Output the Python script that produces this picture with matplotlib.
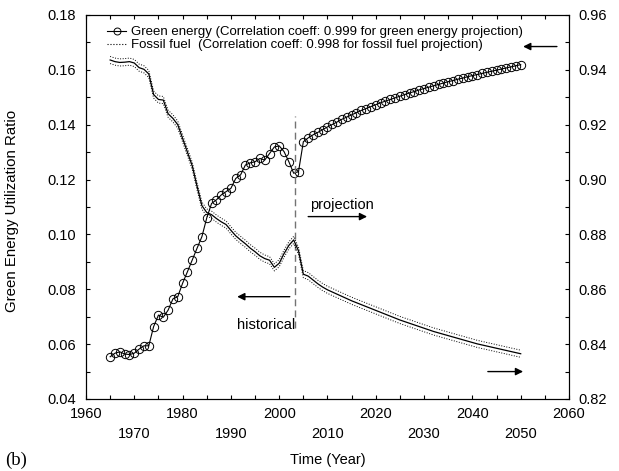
import numpy as np
import matplotlib.pyplot as plt
from matplotlib.lines import Line2D
from matplotlib.ticker import MultipleLocator, FormatStrFormatter

plt.rcParams['font.family'] = ['Liberation Sans', 'DejaVu Sans']

# historical data (1965-2004) and projection (2005-2050)
hist_years = list(range(1965, 2005))
proj_years = list(range(2005, 2051))

green_hist = [0.0554, 0.0567, 0.0572, 0.0564, 0.0562, 0.0567, 0.0582, 0.0594, 0.0594, 0.0664,
              0.0706, 0.0698, 0.0724, 0.0765, 0.0773, 0.0822, 0.0864, 0.0907, 0.0950, 0.0992,
              0.1060, 0.1113, 0.1126, 0.1144, 0.1156, 0.1168, 0.1204, 0.1217, 0.1253, 0.1261,
              0.1265, 0.1277, 0.1271, 0.1295, 0.1319, 0.1323, 0.1302, 0.1265, 0.1223, 0.1229]
green_proj = [0.1338, 0.1352, 0.1363, 0.1372, 0.1382, 0.1392, 0.1401, 0.1410, 0.1420, 0.1428,
              0.1436, 0.1444, 0.1452, 0.1459, 0.1466, 0.1473, 0.1480, 0.1486, 0.1492, 0.1498,
              0.1504, 0.1510, 0.1516, 0.1521, 0.1527, 0.1532, 0.1537, 0.1542, 0.1547, 0.1552,
              0.1557, 0.1561, 0.1566, 0.1570, 0.1575, 0.1579, 0.1583, 0.1587, 0.1591, 0.1595,
              0.1599, 0.1603, 0.1607, 0.1611, 0.1615, 0.1619]

fossil_hist = [0.9436, 0.9430, 0.9427, 0.9428, 0.9430, 0.9425, 0.9408, 0.9402, 0.9385, 0.9310,
               0.9292, 0.9290, 0.9240, 0.9223, 0.9200, 0.9150, 0.9100, 0.9050, 0.8975, 0.8905,
               0.8880, 0.8872, 0.8858, 0.8846, 0.8836, 0.8815, 0.8795, 0.8780, 0.8766, 0.8750,
               0.8737, 0.8722, 0.8712, 0.8706, 0.8680, 0.8695, 0.8730, 0.8760, 0.8780, 0.8740]
fossil_proj = [0.8655, 0.8648, 0.8634, 0.8620, 0.8608, 0.8598, 0.8590, 0.8582, 0.8574, 0.8566,
               0.8558, 0.8551, 0.8544, 0.8537, 0.8530, 0.8523, 0.8516, 0.8509, 0.8502, 0.8495,
               0.8488, 0.8482, 0.8476, 0.8470, 0.8464, 0.8458, 0.8452, 0.8446, 0.8441, 0.8436,
               0.8431, 0.8426, 0.8421, 0.8416, 0.8411, 0.8406, 0.8401, 0.8397, 0.8393, 0.8389,
               0.8385, 0.8381, 0.8377, 0.8373, 0.8369, 0.8365]
fossil_band = 0.0013   # half width of the dotted band
split_year = 2003.3

years = hist_years + proj_years
green = green_hist + green_proj
fossil = np.array(fossil_hist + fossil_proj)

fig = plt.figure(figsize=(6.19, 4.71), dpi=100)
ax = fig.add_axes([86 / 619, 1 - 399 / 471, 483 / 619, 384 / 471])
ax2 = ax.twinx()

ax.plot(years, green, 'k-', lw=0.8, marker='o', mfc='none', mec='k', ms=6, mew=0.7)
ax2.plot(years, fossil, 'k-', lw=0.9)
ax2.plot(years, fossil + fossil_band, 'k:', lw=0.7)
ax2.plot(years, fossil - fossil_band, 'k:', lw=0.7)

ax.plot([split_year, split_year], [0.066, 0.143], color='0.45', ls=(0, (5, 3)), lw=1)

ax.set_xlim(1960, 2060)
ax.set_ylim(0.04, 0.18)
ax2.set_ylim(0.82, 0.96)

xt = list(range(1960, 2061, 10))
ax.set_xticks(xt)
ax.set_xticklabels([str(y) if (y - 1960) % 20 == 0 else '\n' + str(y) for y in xt])
for lab in ax.get_xticklabels():
    lab.set_linespacing(1.5)
ax.yaxis.set_major_locator(MultipleLocator(0.02))
ax.yaxis.set_minor_locator(MultipleLocator(0.01))
ax.yaxis.set_major_formatter(FormatStrFormatter('%.2f'))
ax2.yaxis.set_major_locator(MultipleLocator(0.02))
ax2.yaxis.set_minor_locator(MultipleLocator(0.01))
ax2.yaxis.set_major_formatter(FormatStrFormatter('%.2f'))
ax.xaxis.set_minor_locator(MultipleLocator(5))

ax.tick_params(which='both', direction='in', top=True, labelsize=10.5, length=3, width=0.8)
ax.tick_params(axis='y', pad=7)
ax.tick_params(axis='x', pad=6)
ax2.tick_params(which='both', direction='in', labelsize=10.5, length=3, width=0.8, pad=7)

ax.set_xlabel('Time (Year)', fontsize=10.5, labelpad=9)
ax.set_ylabel('Green Energy Utilization Ratio', fontsize=10.8)
ax.yaxis.set_label_coords(-67 / 483, 0.49)
fig.text(0.008, 0.012, '(b)', fontsize=13.5, family='Liberation Serif')

# annotations
arrow = dict(arrowstyle='-|>', color='k', lw=1, mutation_scale=11, shrinkA=0, shrinkB=0)
ax.annotate('', xy=(2018.2, 0.1065), xytext=(2006.0, 0.1065), arrowprops=arrow)
ax.text(2006.4, 0.1108, 'projection', fontsize=10.5, va='center', ha='left')
ax.annotate('', xy=(1991.3, 0.0773), xytext=(2002.2, 0.0773), arrowprops=arrow)
ax.text(1997.2, 0.067, 'historical', fontsize=10.5, va='center', ha='center')
ax.annotate('', xy=(2050.5, 0.0500), xytext=(2043.2, 0.0500), arrowprops=arrow)
ax.annotate('', xy=(2050.5, 0.1685), xytext=(2057.5, 0.1685), arrowprops=arrow)

h1 = Line2D([], [], color='k', lw=0.8, marker='o', mfc='none', mec='k', ms=5, mew=0.7)
h2 = Line2D([], [], color='k', lw=0.8, ls=':')
ax.legend([h1, h2],
          ['Green energy (Correlation coeff: 0.999 for green energy projection)',
           'Fossil fuel  (Correlation coeff: 0.998 for fossil fuel projection)'],
          loc='upper left', bbox_to_anchor=(0.025, 0.995), frameon=False, fontsize=9.5,
          handlelength=1.4, handletextpad=0.4, labelspacing=0.05, borderaxespad=0.3)

fig.savefig('out.png', dpi=100)
